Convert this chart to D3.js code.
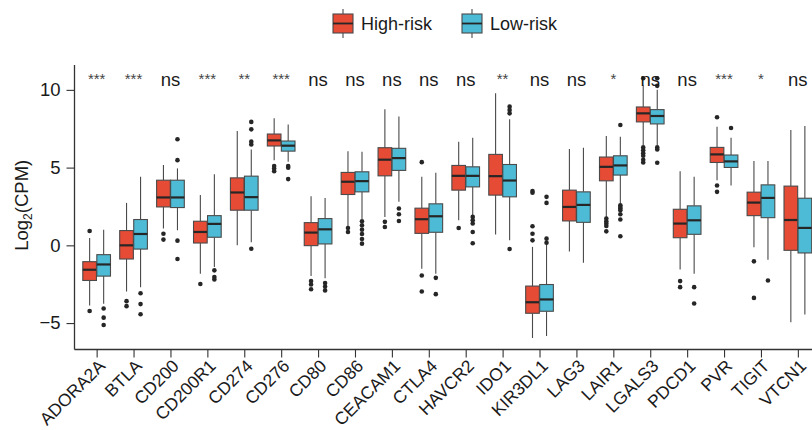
<!DOCTYPE html>
<html>
<head>
<meta charset="utf-8">
<script src="https://cdn.jsdelivr.net/npm/d3@7"></script>
<style>
  html, body { margin: 0; padding: 0; background: #fff; }
  svg { display: block; font-family: "Liberation Sans", Arial, Helvetica, sans-serif; }
</style>
</head>
<body>
<svg id="chart" width="812" height="430"></svg>
<script>
// Immune checkpoint genes
const genes = ["ADORA2A","BTLA","CD200","CD200R1","CD274","CD276","CD80","CD86","CEACAM1","CTLA4",
               "HAVCR2","IDO1","KIR3DL1","LAG3","LAIR1","LGALS3","PDCD1","PVR","TIGIT","VTCN1"];

// Box statistics per gene: [lower whisker, Q1, median, Q3, upper whisker]
const highStats = [
  [-3.87,-2.26,-1.57,-1.05, 0.47],
  [-2.97,-0.88, 0.00, 0.95, 2.73],
  [ 1.08, 2.47, 3.08, 4.19, 5.16],
  [-1.83, 0.15, 0.86, 1.55, 3.23],
  [ 0.00, 2.26, 3.40, 4.34, 7.35],
  [ 5.48, 6.39, 6.75, 7.16, 8.17],
  [-1.98,-0.02, 0.82, 1.46, 3.16],
  [ 1.23, 3.27, 4.09, 4.69, 6.06],
  [ 1.83, 4.47, 5.51, 6.28, 8.75],
  [-1.51, 0.77, 1.68, 2.39, 4.41],
  [ 1.61, 3.55, 4.47, 5.14, 6.67],
  [ 0.69, 3.23, 4.45, 5.85, 9.78],
  [-5.96,-4.37,-3.66,-2.62,-0.10],
  [-0.39, 1.57, 2.47, 3.55, 6.19],
  [ 1.83, 4.15, 5.05, 5.68, 7.03],
  [ 6.45, 7.94, 8.49, 8.90,10.30],
  [-1.55, 0.49, 1.40, 2.32, 4.77],
  [ 4.19, 5.33, 5.85, 6.30, 7.63],
  [-0.13, 1.91, 2.75, 3.42, 5.42],
  [-4.95,-0.32, 1.63, 3.81, 7.42]
];
const lowStats = [
  [-3.76,-1.98,-1.23,-0.60, 1.01],
  [-2.69,-0.24, 0.73, 1.66, 4.41],
  [ 0.97, 2.43, 3.08, 4.19, 4.95],
  [-1.40, 0.52, 1.38, 1.91, 4.58],
  [ 0.20, 2.26, 3.10, 4.45, 6.17],
  [ 5.38, 6.06, 6.41, 6.71, 7.78],
  [-2.11, 0.09, 1.03, 1.72, 3.05],
  [ 1.70, 3.44, 4.13, 4.73, 6.02],
  [ 2.80, 4.82, 5.61, 6.24, 8.28],
  [-1.83, 0.84, 1.87, 2.67, 4.67],
  [ 1.94, 3.76, 4.47, 5.05, 6.92],
  [ 0.32, 3.12, 4.17, 5.20, 8.11],
  [-5.83,-4.24,-3.48,-2.52, 0.15],
  [-1.12, 1.48, 2.60, 3.44, 6.28],
  [ 2.69, 4.52, 5.14, 5.76, 6.99],
  [ 6.45, 7.81, 8.32, 8.73,10.00],
  [-1.83, 0.71, 1.61, 2.54, 4.41],
  [ 3.85, 5.01, 5.40, 5.81, 6.92],
  [-0.92, 1.78, 3.05, 3.89, 5.42],
  [-4.45,-0.49, 1.12, 3.03, 7.68]
];

// Outlying samples per gene
const highOutliers = [
  [0.92,-4.22],
  [-3.59,-3.91],
  [0.75,0.37],
  [-2.49],
  [],
  [5.10,4.95,4.77],
  [-2.30,-2.52,-2.82],
  [1.12,0.86],
  [1.51,1.18],
  [5.35,-1.94,-2.97],
  [1.12],
  [],
  [3.50,3.38,1.23,0.75,0.32],
  [],
  [1.72,1.55,1.40,1.25,0.90],
  [10.75,6.30,6.11,5.93,5.76,5.51,5.33],
  [-2.30,-2.69],
  [8.24,3.85,3.44],
  [-1.03,-3.38],
  []
];
const lowOutliers = [
  [-4.06,-4.65,-5.12],
  [-3.08,-3.78,-4.43],
  [5.48,6.82,0.30,-0.88],
  [-1.61,-2.04,-2.19],
  [7.94,7.46,6.67,6.49,-0.22],
  [5.10,4.99,4.26],
  [-2.43,-2.65,-2.90],
  [1.55,1.29,1.01,0.73,0.41,0.11],
  [2.37,2.00,1.57],
  [-2.09,-3.14],
  [1.83,1.61,1.40,0.86,0.13],
  [8.92,8.71,8.49,-0.24],
  [3.12,2.73,0.43,0.17],
  [],
  [7.74,2.58,2.47,2.37,2.26,2.00,1.66,0.58],
  [10.75,10.26,6.30,6.17,5.31],
  [-2.69,-3.74],
  [7.55],
  [-2.26],
  []
];

// Wilcoxon significance between risk groups
const signif = ["***","***","ns","***","**","***","ns","ns","ns","ns",
                "ns","**","ns","ns","*","ns","ns","***","*","ns"];

const yTicks = [-5, 0, 5, 10];
const groups = ["High-risk", "Low-risk"];
const colors = ["#E64B35", "#4DBBD5"];

const svg = d3.select("#chart");
const W = 812, H = 430;
const panel = { left: 74.5, top: 65, bottom: 349.5, right: 820 };

const x = d3.scalePoint().domain(genes).range([panel.left, panel.right]).padding(0.6);
const step = x.step();
const y = d3.scaleLinear().domain([-6.7, 11.6]).range([panel.bottom, panel.top]);

const boxW = step * 0.37;
const dodge = [-step * 0.19, step * 0.19];

// boxes
const series = [
  { stats: highStats, outs: highOutliers, color: colors[0], off: dodge[0] },
  { stats: lowStats,  outs: lowOutliers,  color: colors[1], off: dodge[1] }
];

const plot = svg.append("g");
series.forEach(s => {
  const g = plot.append("g");
  genes.forEach((gname, i) => {
    const [lo, q1, med, q3, hi] = s.stats[i];
    const cx = x(gname) + s.off;
    const gg = g.append("g");
    gg.append("line").attr("x1", cx).attr("x2", cx).attr("y1", y(hi)).attr("y2", y(q3))
      .attr("stroke", "#4a4a4a").attr("stroke-width", 1.1);
    gg.append("line").attr("x1", cx).attr("x2", cx).attr("y1", y(q1)).attr("y2", y(lo))
      .attr("stroke", "#4a4a4a").attr("stroke-width", 1.1);
    gg.append("rect").attr("x", cx - boxW / 2).attr("y", y(q3))
      .attr("width", boxW).attr("height", y(q1) - y(q3))
      .attr("fill", s.color).attr("stroke", "#4a4a4a").attr("stroke-width", 1.1);
    gg.append("line").attr("x1", cx - boxW / 2).attr("x2", cx + boxW / 2)
      .attr("y1", y(med)).attr("y2", y(med))
      .attr("stroke", "#262626").attr("stroke-width", 2.2);
    s.outs[i].forEach(v => {
      gg.append("circle").attr("cx", cx).attr("cy", y(v)).attr("r", 2.3).attr("fill", "#262626");
    });
  });
});

// significance labels
svg.append("g").selectAll("text").data(genes).join("text")
  .attr("x", d => x(d))
  .attr("y", 86)
  .attr("text-anchor", "middle")
  .attr("font-size", (d, i) => signif[i] === "ns" ? 18.5 : 15)
  .attr("dy", (d, i) => signif[i] === "ns" ? 0 : -2)
  .attr("fill", (d, i) => signif[i] === "ns" ? "#1a1a1a" : "#444")
  .text((d, i) => signif[i]);

// y axis
const yAxis = svg.append("g").attr("transform", `translate(${panel.left},0)`)
  .call(d3.axisLeft(y).tickValues(yTicks).tickSize(8).tickPadding(6)
        .tickFormat(d => d < 0 ? "\u2212" + Math.abs(d) : d));
yAxis.select(".domain").attr("d", `M0,${panel.top}V${panel.bottom}`)
  .attr("stroke", "#333").attr("stroke-width", 1.3);
yAxis.selectAll(".tick line").attr("stroke", "#333").attr("stroke-width", 1.1);
yAxis.selectAll(".tick text").attr("font-size", 18.5).attr("fill", "#1a1a1a")
  .attr("font-family", "Liberation Sans, Arial, sans-serif");

// x axis
const xAxis = svg.append("g").attr("transform", `translate(0,${panel.bottom})`)
  .call(d3.axisBottom(x).tickSize(8).tickPadding(3));
xAxis.select(".domain").attr("d", `M${panel.left},0H${W}`)
  .attr("stroke", "#333").attr("stroke-width", 1.3);
xAxis.selectAll(".tick line").attr("stroke", "#333").attr("stroke-width", 1.1);
xAxis.selectAll(".tick text")
  .attr("font-size", 17.5).attr("fill", "#1a1a1a")
  .attr("font-family", "Liberation Sans, Arial, sans-serif")
  .attr("text-anchor", "end")
  .attr("dy", null)
  .attr("transform", "translate(9,17.5) rotate(-45)")
  .attr("y", 0).attr("x", 0);

// y axis title
const yt = svg.append("text")
  .attr("transform", `translate(28,${(panel.top + panel.bottom) / 2 - 2}) rotate(-90)`)
  .attr("text-anchor", "middle").attr("font-size", 18.5).attr("fill", "#1a1a1a");
yt.append("tspan").text("Log");
yt.append("tspan").attr("font-size", 12).attr("dy", 4).text("2");
yt.append("tspan").attr("dy", -4).text("(CPM)");

// legend
const legend = svg.append("g");
const keys = [{ x: 333, label: groups[0], c: colors[0] }, { x: 462, label: groups[1], c: colors[1] }];
keys.forEach(k => {
  const g = legend.append("g").attr("transform", `translate(${k.x},0)`);
  g.append("line").attr("x1", 10).attr("x2", 10).attr("y1", 9).attr("y2", 38)
    .attr("stroke", "#4a4a4a").attr("stroke-width", 1.1);
  g.append("rect").attr("x", 0).attr("y", 14).attr("width", 20).attr("height", 19)
    .attr("fill", k.c).attr("stroke", "#4a4a4a").attr("stroke-width", 1.1);
  g.append("line").attr("x1", 0).attr("x2", 20).attr("y1", 23.5).attr("y2", 23.5)
    .attr("stroke", "#262626").attr("stroke-width", 1.8);
  g.append("text").attr("x", 28).attr("y", 30).attr("font-size", 18).attr("fill", "#1a1a1a")
    .text(k.label);
});
</script>
</body>
</html>
